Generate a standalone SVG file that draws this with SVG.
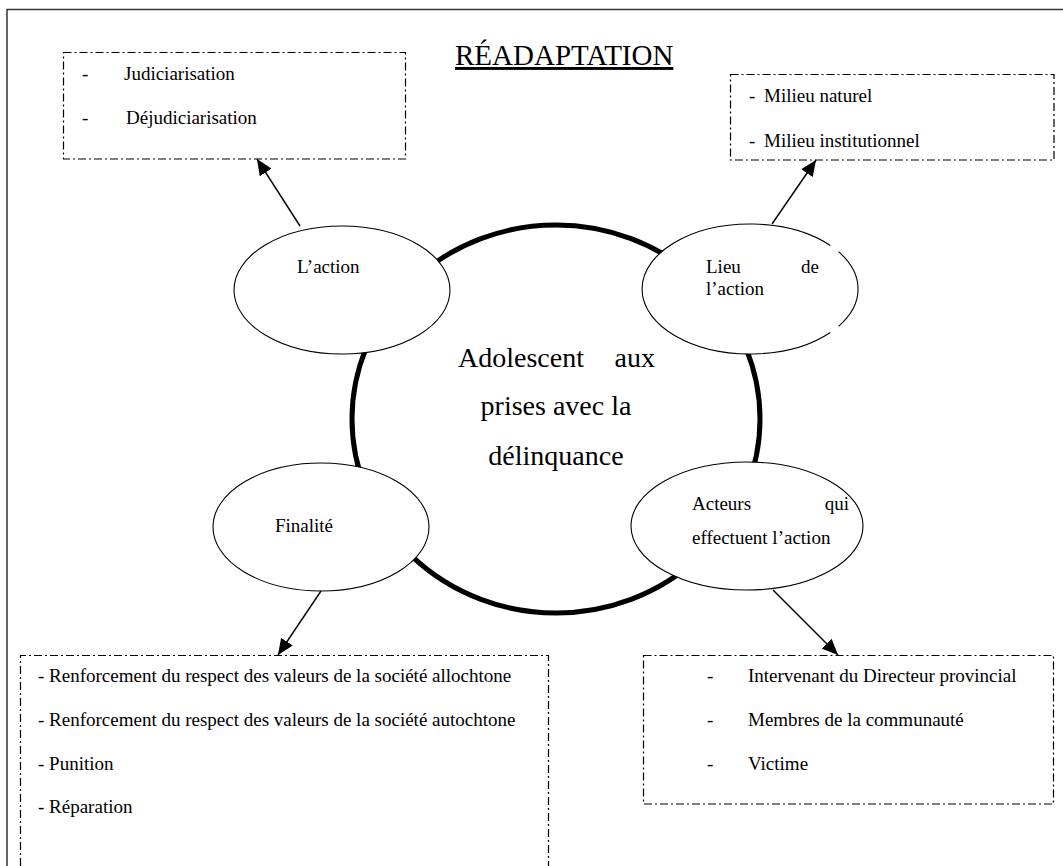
<svg xmlns="http://www.w3.org/2000/svg" width="1063" height="866" viewBox="0 0 1063 866">
<style>
  text { font-family: "Liberation Serif", "Times New Roman", serif; fill: #000; }
  .t19 { font-size: 19px; }
  .title { font-size: 29px; text-decoration: underline; }
  .center { font-size: 28px; }
  .frame { fill: none; stroke: #333; stroke-width: 1.5; }
  .box { fill: none; stroke: #000; stroke-width: 1.2; stroke-dasharray: 8 3 2 3; }
  .node { fill: #fff; stroke: #000; stroke-width: 1.1; }
  .hub { fill: #fff; stroke: #000; stroke-width: 5; }
  .conn { stroke: #000; stroke-width: 1.4; fill: none; marker-end: url(#arrow); }
</style>
<defs>
  <marker id="arrow" markerUnits="userSpaceOnUse" markerWidth="17" markerHeight="14" refX="16" refY="7" orient="auto">
    <path d="M0,0 L16,7 L0,14 Z" fill="#000"/>
  </marker>
</defs>
<rect width="1063" height="866" fill="#fff"/>
<path class="frame" d="M7,866 L7,9.5 L1063,9.5"/>

<g id="title">
  <text class="title" x="455" y="65">RÉADAPTATION</text>
</g>

<g id="box-action">
  <rect class="box" x="63.5" y="52.5" width="342" height="106.5"/>
  <text class="t19" x="82" y="80">-</text>
  <text class="t19" x="124" y="80">Judiciarisation</text>
  <text class="t19" x="82" y="124">-</text>
  <text class="t19" x="126" y="124">Déjudiciarisation</text>
</g>

<g id="box-lieu">
  <rect class="box" x="730.5" y="74.5" width="323.5" height="85.5"/>
  <text class="t19" x="749" y="102">-</text>
  <text class="t19" x="764" y="102">Milieu naturel</text>
  <text class="t19" x="749" y="147">-</text>
  <text class="t19" x="764" y="147">Milieu institutionnel</text>
</g>

<g id="box-finalite">
  <path class="box" d="M20.5,866 L20.5,655.5 L548.5,655.5 L548.5,866"/>
  <text class="t19" x="38" y="682">- Renforcement du respect des valeurs de la société allochtone</text>
  <text class="t19" x="38" y="726">- Renforcement du respect des valeurs de la société autochtone</text>
  <text class="t19" x="38" y="770">- Punition</text>
  <text class="t19" x="38" y="813">- Réparation</text>
</g>

<g id="box-acteurs">
  <rect class="box" x="643.5" y="655.5" width="410" height="148.5"/>
  <text class="t19" x="707" y="682">-</text>
  <text class="t19" x="748" y="682">Intervenant du Directeur provincial</text>
  <text class="t19" x="707" y="726">-</text>
  <text class="t19" x="748" y="726">Membres de la communauté</text>
  <text class="t19" x="707" y="770">-</text>
  <text class="t19" x="748" y="770">Victime</text>
</g>

<g id="hub">
  <ellipse class="hub" cx="556" cy="419" rx="204" ry="194"/>
  <text class="center" y="367"><tspan x="458">Adolescent</tspan><tspan x="655" text-anchor="end">aux</tspan></text>
  <text class="center" x="556" y="415" text-anchor="middle">prises avec la</text>
  <text class="center" x="556" y="465" text-anchor="middle">délinquance</text>
</g>

<g id="node-action">
  <ellipse class="node" cx="342" cy="290" rx="108" ry="64"/>
  <text class="t19" x="297" y="273">L’action</text>
</g>

<g id="node-lieu">
  <path class="node" d="M830.3,332.5 A108,65 0 1 1 830.3,245.5"/>
  <path class="node" style="fill:none" d="M838.5,251.7 A108,65 0 0 1 838.5,326.3"/>
  <text class="t19" y="273"><tspan x="706">Lieu</tspan><tspan x="819" text-anchor="end">de</tspan></text>
  <text class="t19" x="706" y="295">l’action</text>
</g>

<g id="node-finalite">
  <ellipse class="node" cx="321" cy="527" rx="108" ry="64"/>
  <text class="t19" x="275" y="532">Finalité</text>
</g>

<g id="node-acteurs">
  <ellipse class="node" cx="747" cy="526" rx="116" ry="64"/>
  <text class="t19" y="510"><tspan x="692">Acteurs</tspan><tspan x="849" text-anchor="end">qui</tspan></text>
  <text class="t19" x="692" y="544">effectuent l’action</text>
</g>

<g id="connectors">
  <line class="conn" x1="300" y1="226" x2="257" y2="159"/>
  <line class="conn" x1="772" y1="224" x2="816" y2="160"/>
  <line class="conn" x1="321" y1="591" x2="278" y2="655"/>
  <line class="conn" x1="773" y1="590" x2="838" y2="655"/>
</g>
</svg>
